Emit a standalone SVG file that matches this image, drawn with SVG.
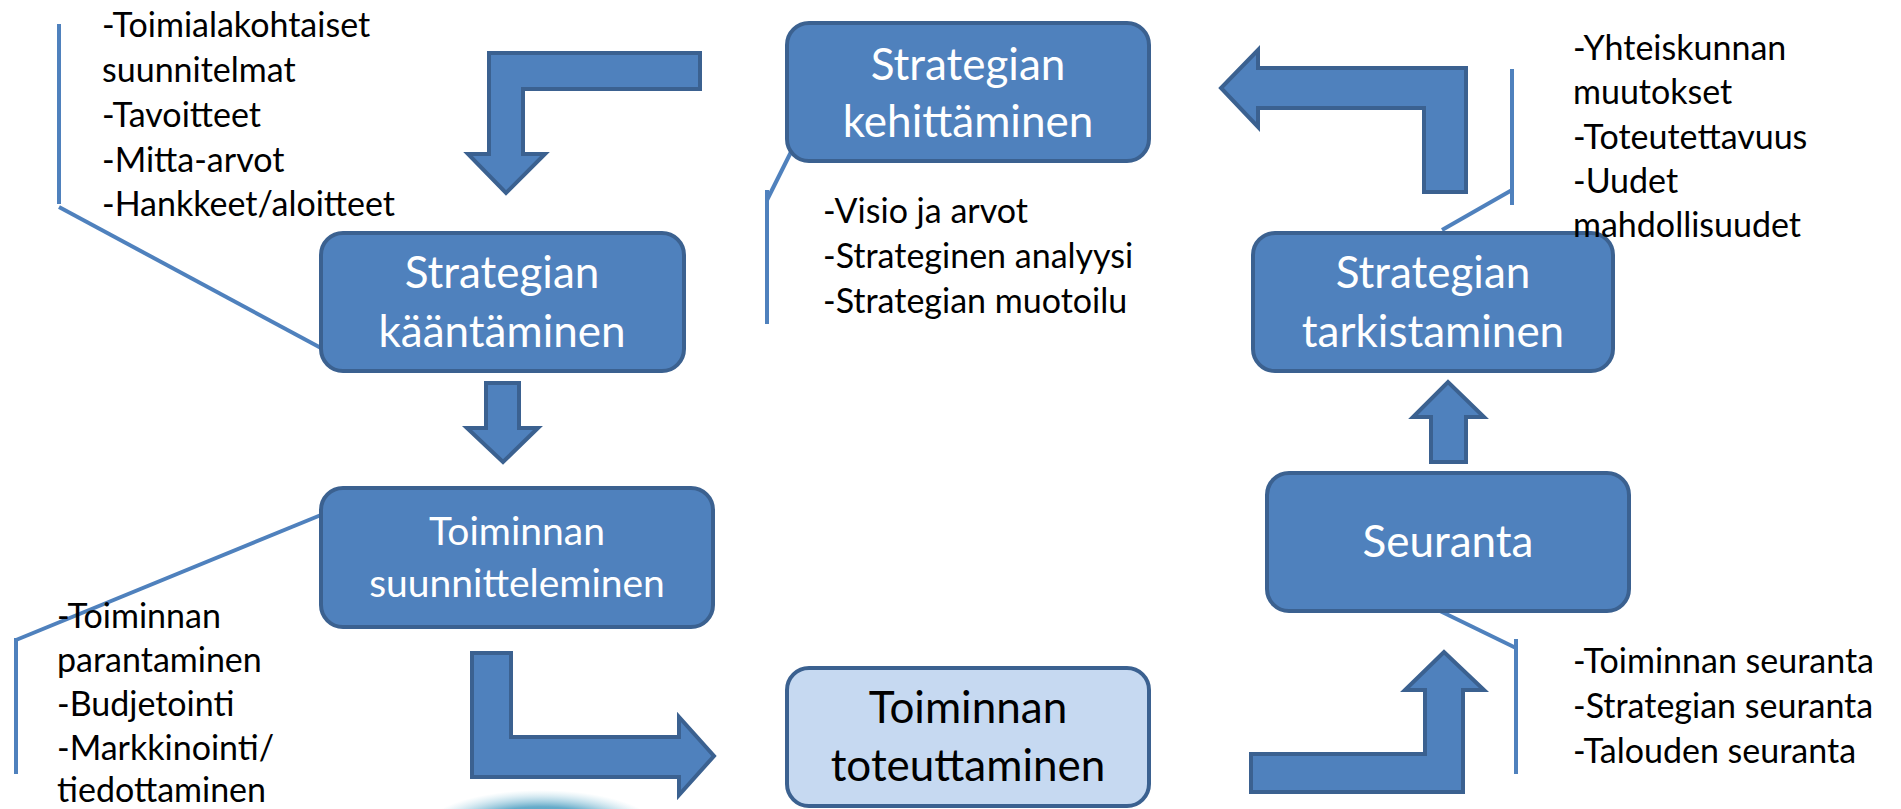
<svg xmlns="http://www.w3.org/2000/svg" width="1901" height="809" viewBox="0 0 1901 809">
<defs>
<style>
.box{fill:#4F81BD;stroke:#3B6190;stroke-width:4}
.boxl{fill:#C6D9F1;stroke:#3B6190;stroke-width:4}
.arr{fill:#4F81BD;stroke:#3B6190;stroke-width:4;stroke-linejoin:miter}
.co{fill:none;stroke:#4F81BD;stroke-width:4}
.bt{font-family:Lato,"Open Sans",sans-serif;fill:#FFFFFF;text-anchor:middle}
.dt{font-family:Lato,"Open Sans",sans-serif;fill:#000000;text-anchor:middle}
.ct{font-family:Lato,"Open Sans",sans-serif;fill:#000000;font-size:34px}
</style>
<radialGradient id="glow" cx="0.5" cy="0.5" r="0.5">
<stop offset="0" stop-color="#2F7FA8"/>
<stop offset="0.6" stop-color="#4C9DC0" stop-opacity="0.85"/>
<stop offset="1" stop-color="#9FD0E2" stop-opacity="0"/>
</radialGradient>
</defs>
<rect width="1901" height="809" fill="#FFFFFF"/>
<ellipse cx="541" cy="832" rx="120" ry="42" fill="url(#glow)"/>

<g id="connectors">
<path class="arr" d="M700,53 L489,53 L489,154 L468,154 L506,193 L545,154 L523,154 L523,89 L700,89 Z"/>
<path class="arr" d="M486,383 L519,383 L519,428 L538,428 L503,462 L467,428 L486,428 Z"/>
<path class="arr" d="M472,653 L511,653 L511,737 L679,737 L679,717 L714,756 L679,795 L679,777 L472,777 Z"/>
<path class="arr" d="M1251,754 L1425,754 L1425,690 L1405,690 L1444,652 L1484,690 L1463,690 L1463,792 L1251,792 Z"/>
<path class="arr" d="M1431,462 L1431,417 L1413,417 L1448,382 L1484,417 L1466,417 L1466,462 Z"/>
<path class="arr" d="M1466,68 L1466,192 L1424,192 L1424,108 L1258,108 L1258,127 L1221,88 L1258,50 L1258,68 Z"/>
</g>

<g id="callouts">
<path class="co" d="M59,24 L59,204"/>
<path class="co" d="M59,207 L321,348"/>
<path class="co" d="M767,190 L767,324"/>
<path class="co" d="M767,200 L791,152"/>
<path class="co" d="M1512,69 L1512,205"/>
<path class="co" d="M1512,190 L1442,230"/>
<path class="co" d="M1440,611 L1516,648"/>
<path class="co" d="M1516,639 L1516,774"/>
<path class="co" d="M321,515 L16,640"/>
<path class="co" d="M16,638 L16,774"/>
</g>

<g id="node-kehittaminen">
<rect class="box" x="787" y="23" width="362" height="138" rx="22"/>
<text class="bt" font-size="44" x="968" y="80">Strategian</text>
<text class="bt" font-size="44" x="968" y="137">kehittäminen</text>
</g>

<g id="node-kaantaminen">
<rect class="box" x="321" y="233" width="363" height="138" rx="22"/>
<text class="bt" font-size="44" x="502" y="288">Strategian</text>
<text class="bt" font-size="44" x="502" y="347">kääntäminen</text>
</g>

<g id="node-suunnitteleminen">
<rect class="box" x="321" y="488" width="392" height="139" rx="22"/>
<text class="bt" font-size="39" x="517" y="545">Toiminnan</text>
<text class="bt" font-size="39" x="517" y="597">suunnitteleminen</text>
</g>

<g id="node-toteuttaminen">
<rect class="boxl" x="787" y="668" width="362" height="138" rx="22"/>
<text class="dt" font-size="44" x="968" y="723">Toiminnan</text>
<text class="dt" font-size="44" x="968" y="781">toteuttaminen</text>
</g>

<g id="node-seuranta">
<rect class="box" x="1267" y="473" width="362" height="138" rx="22"/>
<text class="bt" font-size="44" x="1448" y="557">Seuranta</text>
</g>

<g id="node-tarkistaminen">
<rect class="box" x="1253" y="233" width="360" height="138" rx="22"/>
<text class="bt" font-size="44" x="1433" y="288">Strategian</text>
<text class="bt" font-size="44" x="1433" y="347">tarkistaminen</text>
</g>

<g id="text-kaantaminen">
<text class="ct" x="102" y="37">-Toimialakohtaiset</text>
<text class="ct" x="102" y="82">suunnitelmat</text>
<text class="ct" x="102" y="127">-Tavoitteet</text>
<text class="ct" x="102" y="172">-Mitta-arvot</text>
<text class="ct" x="102" y="216">-Hankkeet/aloitteet</text>
</g>

<g id="text-kehittaminen">
<text class="ct" x="823" y="223">-Visio ja arvot</text>
<text class="ct" x="823" y="268">-Strateginen analyysi</text>
<text class="ct" x="823" y="313">-Strategian muotoilu</text>
</g>

<g id="text-tarkistaminen">
<text class="ct" x="1573" y="60">-Yhteiskunnan</text>
<text class="ct" x="1573" y="104">muutokset</text>
<text class="ct" x="1573" y="149">-Toteutettavuus</text>
<text class="ct" x="1573" y="193">-Uudet</text>
<text class="ct" x="1573" y="237">mahdollisuudet</text>
</g>

<g id="text-seuranta">
<text class="ct" x="1573" y="673">-Toiminnan seuranta</text>
<text class="ct" x="1573" y="718">-Strategian seuranta</text>
<text class="ct" x="1573" y="763">-Talouden seuranta</text>
</g>

<g id="text-suunnitteleminen">
<text class="ct" x="57" y="628">-Toiminnan</text>
<text class="ct" x="57" y="672">parantaminen</text>
<text class="ct" x="57" y="716">-Budjetointi</text>
<text class="ct" x="57" y="760">-Markkinointi/</text>
<text class="ct" x="57" y="802">tiedottaminen</text>
</g>
</svg>
